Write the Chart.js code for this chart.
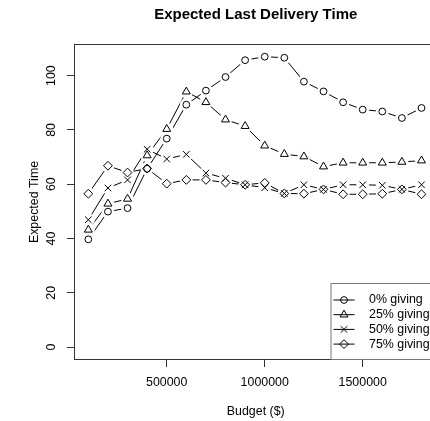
<!DOCTYPE html>
<html>
<head>
<meta charset="utf-8">
<script src="https://cdn.jsdelivr.net/npm/chart.js"></script>
<style>
  html, body { margin: 0; padding: 0; background: #fff; overflow: hidden; }
  canvas { display: block; }
</style>
</head>
<body>
<canvas id="chart" width="443" height="421"></canvas>
<script>
// values
const budget = [100000, 200000, 300000, 400000, 500000, 600000, 700000, 800000, 900000,
                1000000, 1100000, 1200000, 1300000, 1400000, 1500000, 1600000, 1700000, 1800000];
const seriesNames = ["0% giving", "25% giving", "50% giving", "75% giving"];
const giving0  = [39.7, 49.9, 51.2, 65.7, 76.8, 89.3, 94.5, 99.5, 105.7, 107.0, 106.6, 97.8, 94.2, 90.2, 87.5, 86.8, 84.4, 88.1];
const giving25 = [43.2, 52.8, 54.6, 70.6, 80.3, 94.1, 90.2, 83.8, 81.4, 74.2, 71.1, 70.2, 66.5, 67.9, 67.9, 67.9, 68.2, 68.7];
const giving50 = [46.9, 58.6, 61.6, 72.9, 69.3, 71.0, 64.1, 62.2, 59.8, 58.7, 56.6, 59.8, 58.1, 59.8, 59.8, 59.6, 58.1, 59.8];
const giving75 = [56.5, 66.8, 64.3, 65.8, 60.2, 61.6, 61.6, 60.6, 59.8, 60.5, 56.6, 56.5, 58.1, 56.3, 56.3, 56.5, 58.1, 56.3];
const yTicks = [0, 20, 40, 60, 80, 100];
const xTicks = [500000, 1000000, 1500000];

const allSeries = [giving0, giving25, giving50, giving75];
const markers = ["circle", "triangle", "crossRot", "rectRot"];
const markerSize = [3.4, 4.6, 4.6, 4.4];

const FONT = "'Liberation Sans', Arial, Helvetica, sans-serif";
Chart.defaults.font.family = FONT;
Chart.defaults.color = "#000";

const toPoints = vals => budget.map((b, i) => ({ x: b, y: vals[i] }));

// R type="b" look: line, white gap around each point, hollow marker on top
const datasets = [];
allSeries.forEach((vals, i) => {
    datasets.push({
        label: seriesNames[i], data: toPoints(vals), showLine: true,
        borderColor: "#000", borderWidth: 1, pointRadius: 0, order: 3
    });
    datasets.push({
        label: seriesNames[i] + " gap", data: toPoints(vals), showLine: false,
        pointRadius: 6.5, pointBackgroundColor: "#fff", pointBorderWidth: 0, order: 2
    });
    datasets.push({
        label: seriesNames[i] + " mark", data: toPoints(vals), showLine: false,
        pointStyle: markers[i], pointRadius: markerSize[i],
        pointBorderColor: "#000", pointBackgroundColor: "rgba(0,0,0,0)",
        pointBorderWidth: 1, order: 1
    });
});

// box around the plot region plus the bottom-right legend
const frameAndLegend = {
    id: "frameAndLegend",
    afterDraw(chart) {
        const { ctx, chartArea: a } = chart;
        ctx.save();
        ctx.strokeStyle = "#333";
        ctx.lineWidth = 1;
        ctx.strokeRect(a.left - 0.5, a.top - 0.5, a.right - a.left + 1, a.bottom - a.top + 1);

        const w = 106, h = 76;
        const left = a.right - w, top = a.bottom - h;
        ctx.strokeStyle = "#777";
        ctx.strokeRect(left + 0.5, top + 0.5, w, h);

        ctx.font = "12.4px " + FONT;
        ctx.textBaseline = "middle";
        ctx.textAlign = "left";
        seriesNames.forEach((name, i) => {
            const y = top + 17 + i * 14.7;
            ctx.strokeStyle = "#000";
            ctx.beginPath();
            ctx.moveTo(left + 3, y);
            ctx.lineTo(left + 24, y);
            ctx.stroke();
            ctx.fillStyle = "rgba(0,0,0,0)";
            Chart.helpers.drawPoint(ctx, {
                pointStyle: markers[i], radius: markerSize[i], rotation: 0, borderWidth: 1
            }, left + 13.5, y);
            ctx.fillStyle = "#000";
            ctx.fillText(name, left + 38.5, y);
        });
        ctx.restore();
    }
};

const axisGrid = {
    display: true, drawOnChartArea: false, drawTicks: true,
    tickLength: 8, color: "#333", tickColor: "#333", lineWidth: 1
};

new Chart(document.getElementById("chart"), {
    type: "scatter",
    data: { datasets: datasets },
    options: {
        responsive: false,
        animation: false,
        events: [],
        layout: { padding: { left: 0, right: 2, top: 0, bottom: 0 } },
        plugins: {
            legend: { display: false },
            tooltip: { enabled: false },
            title: {
                display: true,
                text: "Expected Last Delivery Time",
                fullSize: false,
                color: "#000",
                font: { size: 15, weight: "bold", family: FONT },
                padding: { top: 6, bottom: 21 }
            }
        },
        scales: {
            x: {
                type: "linear",
                min: 32000,
                max: 1876500,
                afterBuildTicks: s => { s.ticks = xTicks.map(v => ({ value: v })); },
                afterFit: s => { s.height = 62; },
                grid: axisGrid,
                border: { display: false },
                ticks: { padding: 8.3, maxRotation: 0, font: { size: 12.4 }, callback: v => String(v) },
                title: { display: true, text: "Budget ($)", font: { size: 12.4 }, padding: { top: 0, bottom: 2 } }
            },
            y: {
                min: -4.4,
                max: 111.3,
                afterBuildTicks: s => { s.ticks = yTicks.map(v => ({ value: v })); },
                afterFit: s => { s.width = 75; },
                grid: axisGrid,
                border: { display: false },
                ticks: {
                    minRotation: 90, maxRotation: 90, crossAlign: "center",
                    padding: 5, font: { size: 12.4 }, callback: v => String(v)
                },
                title: { display: true, text: "Expected Time", font: { size: 12.4 }, padding: { top: 27.5, bottom: 0 } }
            }
        }
    },
    plugins: [frameAndLegend]
});
</script>
</body>
</html>
